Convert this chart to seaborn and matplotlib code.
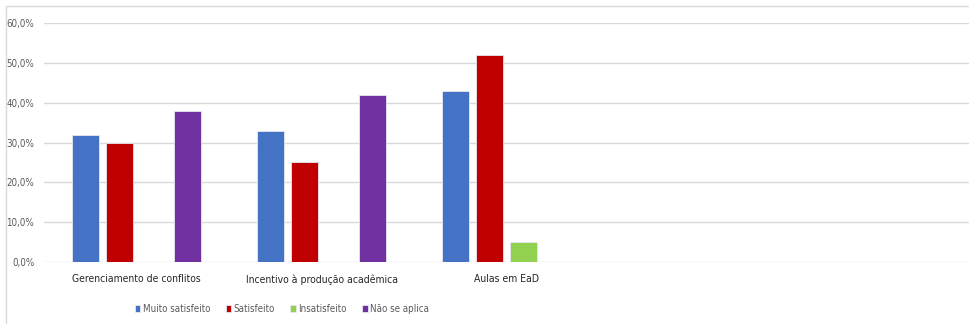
#!/usr/bin/env python3
import matplotlib
matplotlib.use('Agg')
import matplotlib.pyplot as plt
import matplotlib.patches as patches
from matplotlib.ticker import FuncFormatter
import pandas as pd
import seaborn as sns

# data (percent)
categorias = ['Gerenciamento de conflitos', 'Incentivo à produção acadêmica', 'Aulas em EaD']
niveis = ['Muito satisfeito', 'Satisfeito', 'Insatisfeito', 'Não se aplica']
muito_satisfeito = [32, 33, 43]
satisfeito = [30, 25, 52]
insatisfeito = [None, None, 5]
nao_se_aplica = [38, 42, None]
cores = ['#4472C4', '#C00000', '#92D050', '#7030A0']

rows = []
for nivel, vals in zip(niveis, [muito_satisfeito, satisfeito, insatisfeito, nao_se_aplica]):
    for cat, v in zip(categorias, vals):
        if v is not None:
            rows.append(dict(categoria=cat, nivel=nivel, valor=v / 100))
df = pd.DataFrame(rows)

sns.set_style('white')
plt.rcParams['font.family'] = ['DejaVu Sans']
plt.rcParams['font.stretch'] = 'condensed'

fig = plt.figure(figsize=(9.69, 3.24), dpi=100)
ax = fig.add_axes([44 / 969, 1 - 262 / 324, 925 / 969, (262 - 23) / 324])

sns.barplot(data=df, x='categoria', y='valor', hue='nivel', order=categorias,
            hue_order=niveis, palette=cores, saturation=1, width=0.73, gap=0.2,
            edgecolor='#E8E8F0', linewidth=0.6, ax=ax)

ax.set_xlim(-0.5, 4.5)
ax.set_ylim(0, 0.6)
ax.set_yticks([0, 0.1, 0.2, 0.3, 0.4, 0.5, 0.6])
ax.yaxis.set_major_formatter(FuncFormatter(lambda v, p: f'{v * 100:.1f}%'.replace('.', ',')))
ax.grid(axis='y', color='#D9D9D9', linewidth=1)
ax.set_axisbelow(True)
for s in ax.spines.values():
    s.set_visible(False)
ax.set_xlabel('')
ax.set_ylabel('')
ax.tick_params(axis='y', labelsize=7, colors='#595959', length=0, pad=7)
ax.tick_params(axis='x', labelsize=7.5, colors='#262626', length=0, pad=9)

ax.legend(loc='center', bbox_to_anchor=(282 / 969, 1 - 309 / 324),
          bbox_transform=fig.transFigure, ncol=4, frameon=False,
          fontsize=7, handlelength=0.55, handleheight=0.6, handletextpad=0.25,
          columnspacing=1.6, labelcolor='#595959')

# chart border (partially cut off in the picture)
fig.add_artist(patches.Rectangle((6 / 969, -0.1), 1.2, 1 - 6 / 324 + 0.1,
                                 transform=fig.transFigure, fill=False,
                                 edgecolor='#D9D9D9', linewidth=1))

plt.savefig('out.png', dpi=100)
